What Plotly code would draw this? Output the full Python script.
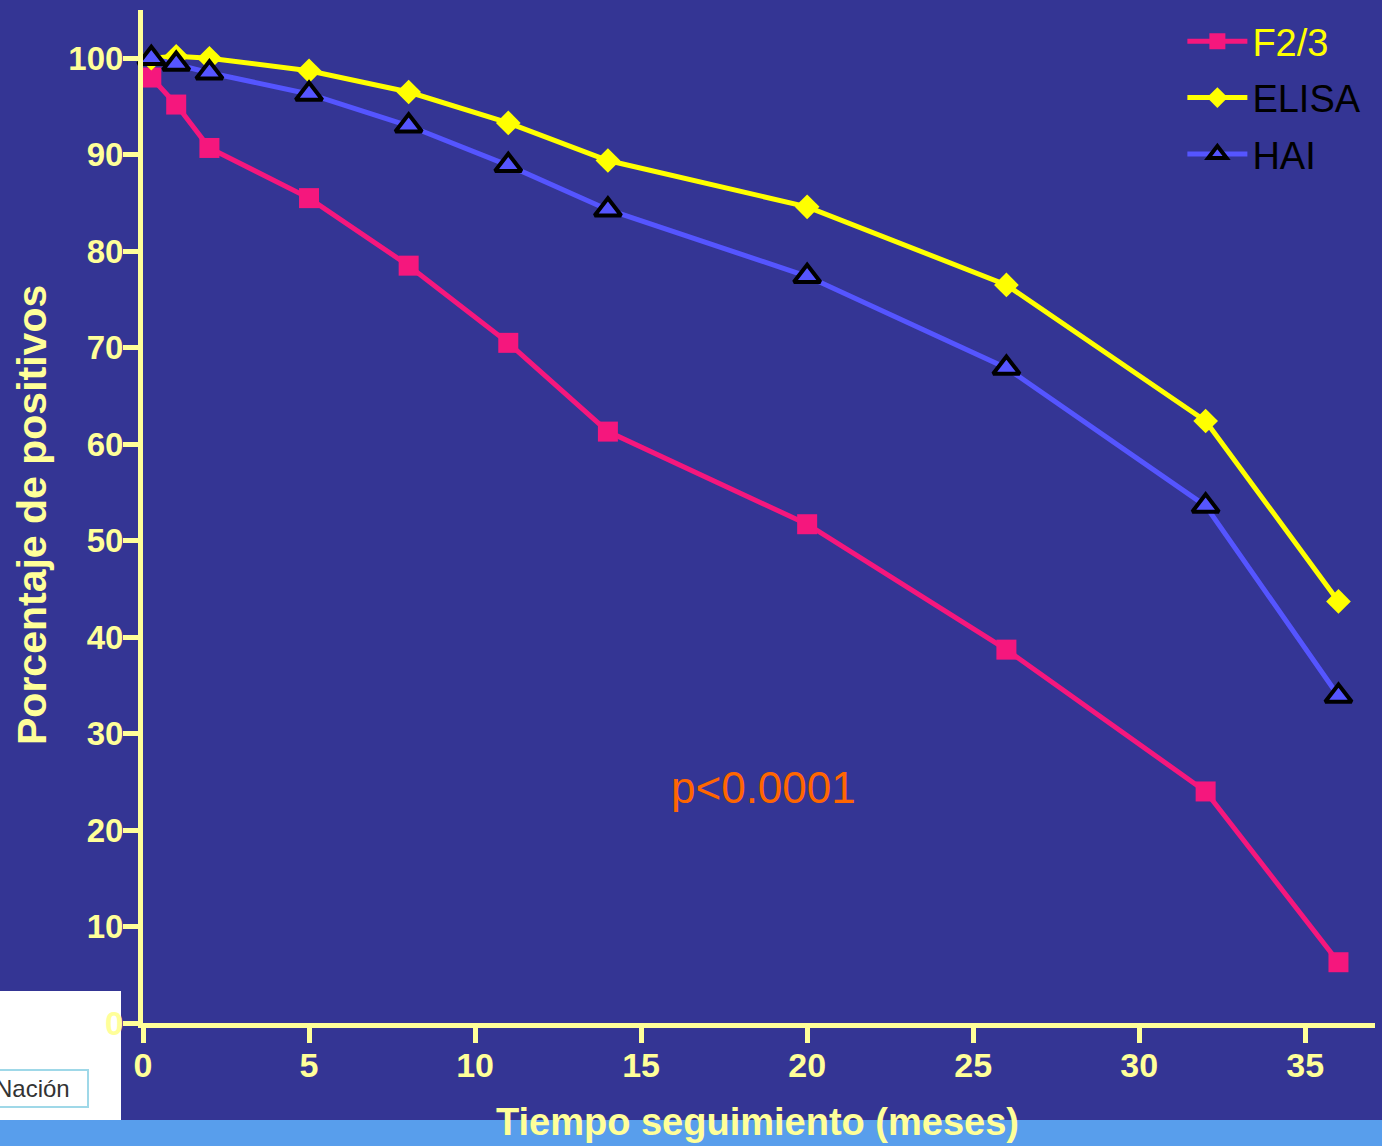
import plotly.graph_objects as go

months = [0.25, 1, 2, 5, 8, 11, 14, 20, 26, 32, 36]
f23 = [98.0, 95.2, 90.7, 85.5, 78.5, 70.5, 61.3, 51.7, 38.7, 24.0, 6.3]
elisa = [100.0, 100.2, 100.0, 98.7, 96.5, 93.3, 89.4, 84.6, 76.5, 62.4, 43.7]
hai = [100.0, 99.4, 98.5, 96.3, 93.0, 88.9, 84.3, 77.4, 67.9, 53.6, 33.9]
x_ticks = [0, 5, 10, 15, 20, 25, 30, 35]
y_ticks = [0, 10, 20, 30, 40, 50, 60, 70, 80, 90, 100]

BG = "#343594"
AX = "#FFFF99"
FONT = "Liberation Sans, Arial, sans-serif"

fig = go.Figure()
fig.add_trace(go.Scatter(
    x=months, y=f23, mode="lines+markers", name="<span style='color:#FFFF00'>F2/3</span>",
    line=dict(color="#F5177D", width=5),
    marker=dict(symbol="square", size=20, color="#F5177D"),
    legendgroup="a", cliponaxis=False))
fig.add_trace(go.Scatter(
    x=months, y=elisa, mode="lines+markers", name="<span style='color:#000000'>ELISA</span>",
    line=dict(color="#FFFF00", width=5),
    marker=dict(symbol="diamond", size=19, color="#FFFF00"),
    legendgroup="b", cliponaxis=False))
fig.add_trace(go.Scatter(
    x=months, y=hai, mode="lines+markers", name="<span style='color:#000000'>HAI</span>",
    line=dict(color="#5555FF", width=5),
    marker=dict(symbol="triangle-up", size=23, color="#5555FF",
                line=dict(color="#000000", width=4)),
    legendgroup="c", cliponaxis=False))

W, H = 1382, 1146
L, R, T, B = 143, 7, 10, 123
pw, ph = W - L - R, H - T - B

def px(x):
    return (x - L) / pw

def py(y):
    return (H - B - y) / ph

shapes = [
    dict(type="rect", xref="paper", yref="paper", x0=px(-5), x1=px(W + 5), y0=py(1120), y1=py(H + 5),
         fillcolor="#589EEC", line=dict(width=0), layer="below"),
    dict(type="rect", xref="paper", yref="paper", x0=px(-5), x1=px(121), y0=py(991), y1=py(1120),
         fillcolor="#FFFFFF", line=dict(width=0), layer="below"),
]

annotations = [
    dict(text="p<0.0001", x=18.7, y=24.4, xref="x", yref="y", showarrow=False,
         xanchor="center", yanchor="middle",
         font=dict(family=FONT, size=44, color="#FF6600")),
    dict(text="<b>Porcentaje de positivos</b>", x=px(32), y=py(515), xref="paper", yref="paper",
         xanchor="center", yanchor="middle",
         showarrow=False, textangle=-90, font=dict(family=FONT, size=41, color=AX)),
    dict(text="<b>Tiempo seguimiento (meses)</b>", x=px(757), y=py(1122), xref="paper", yref="paper",
         xanchor="center", yanchor="middle",
         showarrow=False, font=dict(family=FONT, size=38, color=AX)),
    dict(text="Nación", x=px(89), y=py(1088), xref="paper", yref="paper",
         xanchor="right", yanchor="middle", width=88, align="left",
         showarrow=False, font=dict(family=FONT, size=24, color="#333333"),
         bordercolor="#9FD8E8", borderwidth=2, borderpad=4, bgcolor="#FFFFFF"),
]

fig.update_layout(
    width=W, height=H,
    margin=dict(l=L, r=R, t=T, b=B, autoexpand=False),
    paper_bgcolor=BG, plot_bgcolor=BG,
    font=dict(family=FONT, color=AX),
    shapes=shapes, annotations=annotations,
    showlegend=True,
    legend=dict(x=0.993, y=1.0, xanchor="right", yanchor="top", bgcolor="rgba(0,0,0,0)",
                font=dict(family=FONT, size=38), tracegroupgap=4, itemwidth=60),
    xaxis=dict(range=[0, 37.1], tickvals=x_ticks, showgrid=False, zeroline=False,
               showline=True, linecolor=AX, linewidth=5,
               ticks="outside", ticklen=15, tickwidth=5, tickcolor=AX,
               tickfont=dict(family=FONT, size=34, color=AX, weight="bold"),
               ticklabelstandoff=-7),
    yaxis=dict(range=[0, 105], tickvals=y_ticks, showgrid=False, zeroline=False,
               showline=True, linecolor=AX, linewidth=5,
               ticks="outside", ticklen=15, tickwidth=5, tickcolor=AX,
               tickfont=dict(family=FONT, size=33, color=AX, weight="bold"),
               ticklabelstandoff=-7),
)

fig.write_html("out.html")
